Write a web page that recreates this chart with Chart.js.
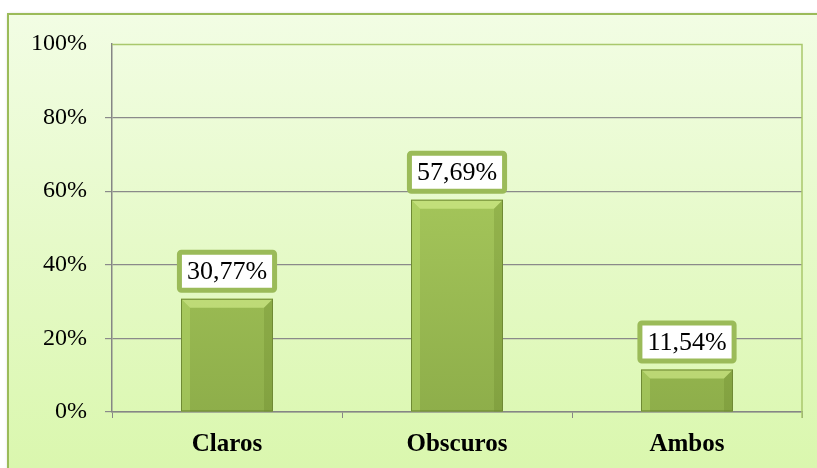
<!DOCTYPE html>
<html><head><meta charset="utf-8">
<script src="https://cdn.jsdelivr.net/npm/chart.js@4"></script>
<style>html,body{margin:0;padding:0;background:#fff;}#wrap{width:817px;height:468px;position:relative;}</style>
</head><body><div id="wrap"><canvas id="c" width="817" height="468"></canvas></div>
<script>
const categories = ["Claros", "Obscuros", "Ambos"];
const values = [30.77, 57.69, 11.54];
const valueLabels = ["30,77%", "57,69%", "11,54%"];
const yTicks = [0, 20, 40, 60, 80, 100];

const bgPlugin = {
  id: 'bg',
  beforeDraw(chart) {
    const ctx = chart.ctx;
    ctx.save();
    ctx.fillStyle = '#ffffff';
    ctx.fillRect(0, 0, chart.width, chart.height);
    const g = ctx.createLinearGradient(0, 13, 0, chart.height);
    g.addColorStop(0, '#f2fde4');
    g.addColorStop(1, '#daf7ae');
    ctx.shadowColor = 'rgba(0,0,0,0.25)';
    ctx.shadowBlur = 3;
    ctx.fillStyle = g;
    ctx.fillRect(8, 14, chart.width, chart.height);
    ctx.shadowBlur = 0;
    ctx.shadowColor = 'transparent';
    ctx.strokeStyle = '#9bbb59';
    ctx.lineWidth = 2;
    ctx.strokeRect(8, 14, chart.width + 10, chart.height + 10);
    ctx.restore();
  },
  beforeDatasetsDraw(chart) {
    const a = chart.chartArea, ctx = chart.ctx;
    ctx.save();
    ctx.strokeStyle = '#a9c86c';
    ctx.lineWidth = 1.5;
    ctx.beginPath();
    ctx.moveTo(a.left, a.top + 0.5);
    ctx.lineTo(a.right, a.top + 0.5);
    ctx.lineTo(a.right, a.bottom + 6);
    ctx.stroke();
    ctx.restore();
  }
};

const barDeco = {
  id: 'barDeco',
  afterDatasetsDraw(chart) {
    const ctx = chart.ctx;
    const meta = chart.getDatasetMeta(0);
    meta.data.forEach((el, i) => {
      const w = el.width, x0 = el.x - w / 2, x1 = el.x + w / 2, top = el.y, bot = el.base;
      const b = 9;
      ctx.save();
      ctx.fillStyle = 'rgba(220,245,150,0.55)';
      ctx.beginPath();
      ctx.moveTo(x0, top); ctx.lineTo(x1, top); ctx.lineTo(x1 - b, top + b); ctx.lineTo(x0 + b, top + b); ctx.closePath();
      ctx.fill();
      ctx.fillStyle = 'rgba(200,235,120,0.3)';
      ctx.beginPath();
      ctx.moveTo(x0, top); ctx.lineTo(x0 + b, top + b); ctx.lineTo(x0 + b, bot); ctx.lineTo(x0, bot); ctx.closePath();
      ctx.fill();
      ctx.fillStyle = 'rgba(90,120,30,0.22)';
      ctx.beginPath();
      ctx.moveTo(x1, top); ctx.lineTo(x1 - b, top + b); ctx.lineTo(x1 - b, bot); ctx.lineTo(x1, bot); ctx.closePath();
      ctx.fill();
      ctx.strokeStyle = '#6f8a34';
      ctx.lineWidth = 1;
      ctx.strokeRect(x0 + 0.5, top + 0.5, w - 1, bot - top - 1);
      ctx.restore();

      const txt = valueLabels[i];
      ctx.save();
      ctx.font = '26px "Liberation Serif", "Times New Roman", serif';
      const tw = ctx.measureText(txt).width;
      const bw = tw + 15, bh = 38;
      const bx = el.x - bw / 2, by = top - 8.5 - bh;
      ctx.fillStyle = '#ffffff';
      ctx.strokeStyle = '#9bbb59';
      ctx.lineWidth = 5;
      ctx.beginPath();
      if (ctx.roundRect) ctx.roundRect(bx, by, bw, bh, 2); else ctx.rect(bx, by, bw, bh);
      ctx.fill();
      ctx.stroke();
      ctx.fillStyle = '#000';
      ctx.textAlign = 'center';
      ctx.textBaseline = 'middle';
      ctx.fillText(txt, el.x, by + bh / 2 + 1);
      ctx.restore();
    });
  }
};

const ctx = document.getElementById('c').getContext('2d');
new Chart(ctx, {
  type: 'bar',
  data: {
    labels: categories,
    datasets: [{
      data: values,
      backgroundColor: (c) => {
        const area = c.chart.chartArea;
        if (!area) return '#9bbb59';
        const g = c.chart.ctx.createLinearGradient(0, area.top, 0, area.bottom);
        g.addColorStop(0, '#b3d565');
        g.addColorStop(1, '#8eae4a');
        return g;
      },
      borderWidth: 0,
      categoryPercentage: 0.4,
      barPercentage: 1.0
    }]
  },
  options: {
    responsive: false,
    animation: false,
    devicePixelRatio: 1,
    layout: { padding: { left: 0, right: 15, top: 44, bottom: 0 } },
    plugins: { legend: { display: false }, tooltip: { enabled: false } },
    scales: {
      x: {
        afterFit(s) { s.height = 56; },
        grid: { display: true, drawOnChartArea: false, color: '#868686', tickLength: 6, offset: true },
        border: { display: true, color: '#868686', width: 1.5 },
        ticks: { color: '#000', padding: 12, font: { family: '"Liberation Serif", "Times New Roman", serif', size: 25, weight: 'bold' } }
      },
      y: {
        min: 0, max: 100,
        afterFit(s) { s.width = 112; },
        afterBuildTicks(s) { s.ticks = yTicks.map(v => ({ value: v })); },
        grid: { color: (c) => c.tick && c.tick.value === 100 ? 'rgba(0,0,0,0)' : '#8a8a8a', lineWidth: 1.2, tickLength: 7 },
        border: { display: true, color: '#868686', width: 1.5 },
        ticks: { color: '#000', padding: 18, callback: (v) => v + '%', font: { family: '"Liberation Serif", "Times New Roman", serif', size: 24 } }
      }
    }
  },
  plugins: [bgPlugin, barDeco]
});
</script>
</body></html>
